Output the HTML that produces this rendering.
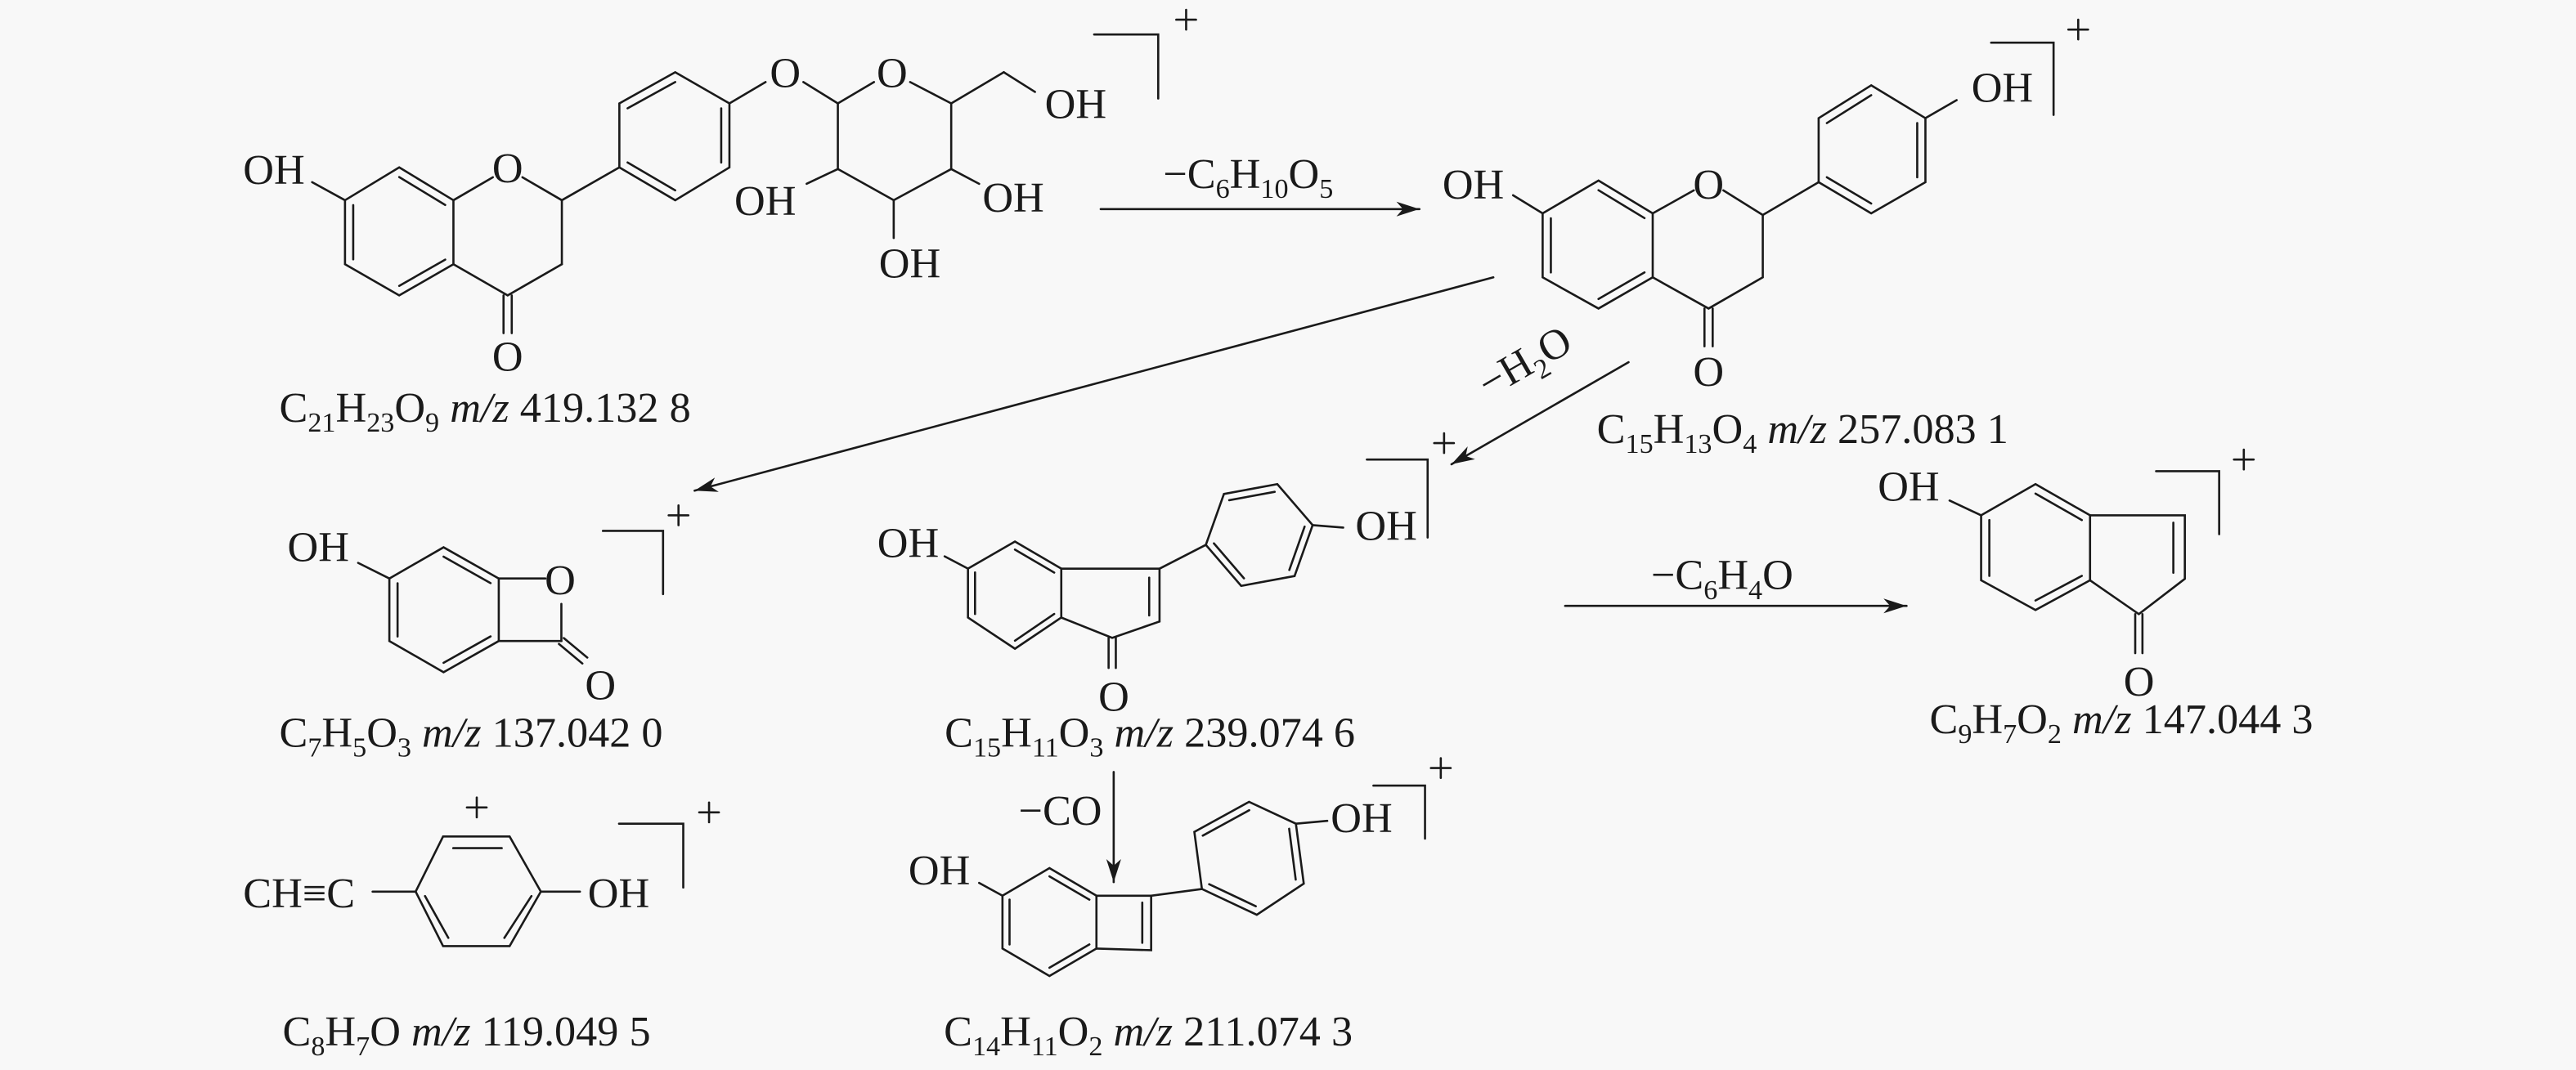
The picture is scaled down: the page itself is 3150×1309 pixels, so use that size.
<!DOCTYPE html>
<html><head><meta charset="utf-8"><style>
html,body{margin:0;padding:0;background:#f8f8f8;}
svg{display:block;}
text{font-family:"Liberation Serif","DejaVu Serif",serif;font-size:26px;fill:#1a1a1a;}
.s{font-size:17px;}
</style></head><body>
<svg width="3150" height="1309" viewBox="0 0 1568 652" preserveAspectRatio="none" xmlns="http://www.w3.org/2000/svg">
<defs>
<marker id="ah" markerUnits="userSpaceOnUse" markerWidth="16" markerHeight="12" refX="14" refY="5" orient="auto">
<path d="M0,0.5 L14,5 L0,9.5 L4,5 Z" fill="#1a1a1a"/>
</marker>
</defs>
<rect width="1568" height="652" fill="#f8f8f8"/>
<g stroke="#1a1a1a" stroke-width="1.3" fill="none" stroke-linecap="round">
<!-- Structure 1 -->
<polygon points="243,102 276,122 276,161 243,180 210,161 210,122"/>
<line x1="243" y1="107.9" x2="271" y2="124.9"/>
<line x1="215" y1="158" x2="215" y2="125"/>
<line x1="271" y1="158.2" x2="243" y2="174.2"/>
<line x1="210" y1="122" x2="190" y2="111"/>
<line x1="276" y1="122" x2="300" y2="108"/>
<line x1="318" y1="108" x2="342" y2="122"/>
<line x1="342" y1="122" x2="342" y2="161"/>
<line x1="342" y1="161" x2="309" y2="180"/>
<line x1="309" y1="180" x2="276" y2="161"/>
<line x1="306.5" y1="180" x2="306.5" y2="203"/>
<line x1="311.5" y1="180" x2="311.5" y2="203"/>
<line x1="342" y1="122" x2="377" y2="102"/>
<polygon points="411,44 444,63 444,102 411,122 377,102 377,63"/>
<line x1="382" y1="66" x2="411" y2="50"/>
<line x1="439" y1="99" x2="439" y2="66"/>
<line x1="382" y1="99" x2="411" y2="116"/>
<line x1="444" y1="63" x2="466" y2="50"/>
<line x1="489" y1="50" x2="510" y2="63"/>
<line x1="510" y1="63" x2="532" y2="50"/>
<line x1="554" y1="50" x2="579" y2="63"/>
<polyline points="579,63 579,103 544,122 510,103 510,63"/>
<line x1="579" y1="63" x2="611" y2="44"/>
<line x1="611" y1="44" x2="630" y2="56"/>
<line x1="579" y1="103" x2="596" y2="112"/>
<line x1="510" y1="103" x2="491" y2="112"/>
<line x1="544" y1="122" x2="544" y2="145"/>
<polyline points="666,21 705,21 705,60"/>
<line x1="716" y1="12" x2="728" y2="12"/><line x1="722" y1="6" x2="722" y2="18"/>

<!-- Structure 2 -->
<polygon points="973,110 1006,130 1006,169 973,188 939,169 939,130"/>
<line x1="973" y1="115.9" x2="1001" y2="132.9"/>
<line x1="944" y1="166" x2="944" y2="133"/>
<line x1="1001" y1="166" x2="973" y2="182.2"/>
<line x1="939" y1="130" x2="921" y2="119"/>
<line x1="1006" y1="130" x2="1031" y2="116"/>
<line x1="1049" y1="116" x2="1073" y2="131"/>
<polyline points="1073,131 1073,169 1040,188 1006,169"/>
<line x1="1037.5" y1="188" x2="1037.5" y2="211"/>
<line x1="1042.5" y1="188" x2="1042.5" y2="211"/>
<line x1="1073" y1="131" x2="1107" y2="111"/>
<polygon points="1139,52 1172,72 1172,111 1139,130 1107,111 1107,72"/>
<line x1="1112" y1="75" x2="1139" y2="58"/>
<line x1="1167" y1="108" x2="1167" y2="75"/>
<line x1="1112" y1="108" x2="1139" y2="124"/>
<line x1="1172" y1="72" x2="1191" y2="61"/>
<polyline points="1212,26 1250,26 1250,70"/>
<line x1="1259" y1="18" x2="1271" y2="18"/><line x1="1265" y1="12" x2="1265" y2="24"/>

<!-- arrows -->
<line x1="670" y1="127.4" x2="864" y2="127.4" marker-end="url(#ah)"/>
<line x1="909" y1="169" x2="422.8" y2="299" marker-end="url(#ah)"/>
<line x1="991.3" y1="220.7" x2="883.5" y2="282.9" marker-end="url(#ah)"/>
<line x1="952.7" y1="369.2" x2="1160.5" y2="369.2" marker-end="url(#ah)"/>
<line x1="677.9" y1="470.4" x2="677.9" y2="537.5" marker-end="url(#ah)"/>

<!-- Structure 3 -->
<polygon points="270,333.5 303.6,352.5 303.6,390.6 270,409.6 237,390.6 237,352.5"/>
<line x1="270" y1="339.2" x2="298.6" y2="355.3"/>
<line x1="242" y1="387.8" x2="242" y2="355.4"/>
<line x1="298.6" y1="387.8" x2="270" y2="403.9"/>
<line x1="237" y1="352.5" x2="218" y2="343"/>
<line x1="303.6" y1="352.5" x2="332" y2="352.5"/>
<line x1="341.7" y1="368" x2="341.7" y2="390.6"/>
<line x1="341.7" y1="390.6" x2="303.6" y2="390.6"/>
<line x1="340.2" y1="392.4" x2="354.5" y2="404.3"/>
<line x1="343.2" y1="388.8" x2="357.5" y2="400.7"/>
<polyline points="367,323.5 403.6,323.5 403.6,362"/>
<line x1="407" y1="314" x2="419" y2="314"/><line x1="413" y1="308" x2="413" y2="320"/>

<!-- Structure 4 -->
<polygon points="617.8,330 646,346.5 646,376.3 617.8,395.3 589.2,376.3 589.2,346.5"/>
<line x1="617.8" y1="334.9" x2="641.7" y2="348.9"/>
<line x1="593.5" y1="374.1" x2="593.5" y2="348.8"/>
<line x1="641.7" y1="374.1" x2="617.8" y2="390.4"/>
<line x1="589.2" y1="346.5" x2="575" y2="339"/>
<polyline points="646,346.5 705.8,346.5 705.8,378.7 677,388.7 646,376.3"/>
<line x1="699.5" y1="352" x2="699.5" y2="375"/>
<line x1="674.8" y1="388.7" x2="674.8" y2="407"/>
<line x1="679.2" y1="388.7" x2="679.2" y2="407"/>
<line x1="705.8" y1="346.5" x2="734" y2="332"/>
<polygon points="734,332 745,301 777.5,295 799,320 788,351 755.5,357"/>
<line x1="748.2" y1="304.8" x2="775.9" y2="299.7"/>
<line x1="794.1" y1="320.9" x2="784.8" y2="347.3"/>
<line x1="757.2" y1="352.4" x2="738.9" y2="331.1"/>
<line x1="799" y1="320" x2="817.6" y2="321.5"/>
<polyline points="832,280 869,280 869,327.5"/>
<line x1="873" y1="270" x2="885" y2="270"/><line x1="879" y1="264" x2="879" y2="276"/>

<!-- Structure 5 -->
<polygon points="269.7,509.7 310.2,509.7 329.2,543.3 310.2,576.5 269.7,576.5 253,543.3"/>
<line x1="275.9" y1="516.8" x2="305.4" y2="516.8"/>
<line x1="258.7" y1="546" x2="272.9" y2="571.5"/>
<line x1="323.5" y1="546" x2="307" y2="571.5"/>
<line x1="226.8" y1="543.3" x2="253" y2="543.3"/>
<line x1="329.2" y1="543.3" x2="353" y2="543.3"/>
<line x1="284.2" y1="492" x2="296.2" y2="492"/><line x1="290.2" y1="486" x2="290.2" y2="498"/>
<polyline points="376.8,501.9 415.9,501.9 415.9,540.8"/>
<line x1="425.6" y1="495" x2="437.6" y2="495"/><line x1="431.6" y1="489" x2="431.6" y2="501"/>

<!-- Structure 6 -->
<polygon points="638.8,529 667.4,545.8 667.4,578 638.8,594.7 610.2,578 610.2,545.8"/>
<line x1="638.8" y1="534" x2="663.1" y2="548.2"/>
<line x1="614.5" y1="575.5" x2="614.5" y2="548.2"/>
<line x1="663.1" y1="575.5" x2="638.8" y2="589.7"/>
<line x1="610.2" y1="545.8" x2="596" y2="538"/>
<polyline points="667.4,545.8 700.7,545.8 700.7,579 667.4,578"/>
<line x1="695.3" y1="550" x2="695.3" y2="574.5"/>
<line x1="700.7" y1="545.8" x2="731.6" y2="541.7"/>
<polygon points="731.6,541.7 727,506.9 760.3,488.6 788.8,501.9 793.6,538.4 765,557.4"/>
<line x1="732.1" y1="509.2" x2="760.4" y2="493.7"/>
<line x1="784.7" y1="505" x2="788.7" y2="536"/>
<line x1="764.4" y1="552.2" x2="736" y2="538.8"/>
<line x1="788.8" y1="501.9" x2="807.9" y2="500.2"/>
<polyline points="836,478.7 867.4,478.7 867.4,511"/>
<line x1="871" y1="468" x2="883" y2="468"/><line x1="877" y1="462" x2="877" y2="474"/>

<!-- Structure 7 -->
<polygon points="1239,295 1272.2,314 1272.2,353.6 1239,371.7 1205.9,353.6 1205.9,314"/>
<line x1="1239" y1="300.8" x2="1267.2" y2="316.9"/>
<line x1="1210.9" y1="350.9" x2="1210.9" y2="316.9"/>
<line x1="1267.2" y1="350.9" x2="1239" y2="365.9"/>
<line x1="1205.9" y1="314" x2="1186.7" y2="305"/>
<polyline points="1272.2,314 1329.9,314 1329.9,352.7 1301.9,374.2 1272.2,353.6"/>
<line x1="1322.9" y1="318.5" x2="1322.9" y2="349"/>
<line x1="1299.7" y1="374.2" x2="1299.7" y2="398"/>
<line x1="1304.1" y1="374.2" x2="1304.1" y2="398"/>
<polyline points="1312.4,287.1 1350.8,287.1 1350.8,325.5"/>
<line x1="1359.8" y1="280" x2="1371.8" y2="280"/><line x1="1365.8" y1="274" x2="1365.8" y2="286"/>
</g>

<!-- Text: structure 1 -->
<text x="148" y="112">OH</text>
<text x="309" y="111" text-anchor="middle">O</text>
<text x="309" y="226" text-anchor="middle">O</text>
<text x="478" y="53" text-anchor="middle">O</text>
<text x="543" y="53" text-anchor="middle">O</text>
<text x="636" y="72">OH</text>
<text x="598" y="129">OH</text>
<text x="447" y="131">OH</text>
<text x="535" y="169">OH</text>
<text x="170" y="257">C<tspan class="s" dy="6">21</tspan><tspan dy="-6">H</tspan><tspan class="s" dy="6">23</tspan><tspan dy="-6">O</tspan><tspan class="s" dy="6">9</tspan><tspan dy="-6"> </tspan><tspan font-style="italic">m/z</tspan> 419.132 8</text>

<text x="708" y="114.5">−C<tspan class="s" dy="6">6</tspan><tspan dy="-6">H</tspan><tspan class="s" dy="6">10</tspan><tspan dy="-6">O</tspan><tspan class="s" dy="6">5</tspan></text>

<!-- structure 2 -->
<text x="878" y="121">OH</text>
<text x="1040" y="121" text-anchor="middle">O</text>
<text x="1040" y="235" text-anchor="middle">O</text>
<text x="1200" y="62">OH</text>
<text x="972" y="270">C<tspan class="s" dy="6">15</tspan><tspan dy="-6">H</tspan><tspan class="s" dy="6">13</tspan><tspan dy="-6">O</tspan><tspan class="s" dy="6">4</tspan><tspan dy="-6"> </tspan><tspan font-style="italic">m/z</tspan> 257.083 1</text>

<text transform="translate(906,243) rotate(-30)">−H<tspan class="s" dy="6">2</tspan><tspan dy="-6">O</tspan></text>

<!-- structure 3 -->
<text x="175" y="342">OH</text>
<text x="341" y="362" text-anchor="middle">O</text>
<text x="365.5" y="426" text-anchor="middle">O</text>
<text x="170" y="455">C<tspan class="s" dy="6">7</tspan><tspan dy="-6">H</tspan><tspan class="s" dy="6">5</tspan><tspan dy="-6">O</tspan><tspan class="s" dy="6">3</tspan><tspan dy="-6"> </tspan><tspan font-style="italic">m/z</tspan> 137.042 0</text>

<!-- structure 4 -->
<text x="534" y="339.5">OH</text>
<text x="678" y="433" text-anchor="middle">O</text>
<text x="825" y="329">OH</text>
<text x="575" y="455">C<tspan class="s" dy="6">15</tspan><tspan dy="-6">H</tspan><tspan class="s" dy="6">11</tspan><tspan dy="-6">O</tspan><tspan class="s" dy="6">3</tspan><tspan dy="-6"> </tspan><tspan font-style="italic">m/z</tspan> 239.074 6</text>

<text x="620" y="502.7">−CO</text>

<!-- structure 5 -->
<text x="148" y="553">CH≡C</text>
<text x="357.8" y="553">OH</text>
<text x="172" y="637">C<tspan class="s" dy="6">8</tspan><tspan dy="-6">H</tspan><tspan class="s" dy="6">7</tspan><tspan dy="-6">O </tspan><tspan font-style="italic">m/z</tspan> 119.049 5</text>

<!-- structure 6 -->
<text x="553" y="539">OH</text>
<text x="810" y="507">OH</text>
<text x="574.5" y="637">C<tspan class="s" dy="6">14</tspan><tspan dy="-6">H</tspan><tspan class="s" dy="6">11</tspan><tspan dy="-6">O</tspan><tspan class="s" dy="6">2</tspan><tspan dy="-6"> </tspan><tspan font-style="italic">m/z</tspan> 211.074 3</text>

<!-- structure 7 -->
<text x="1143" y="305">OH</text>
<text x="1302" y="424" text-anchor="middle">O</text>
<text x="1005" y="359">−C<tspan class="s" dy="6">6</tspan><tspan dy="-6">H</tspan><tspan class="s" dy="6">4</tspan><tspan dy="-6">O</tspan></text>
<text x="1174.5" y="446.7">C<tspan class="s" dy="6">9</tspan><tspan dy="-6">H</tspan><tspan class="s" dy="6">7</tspan><tspan dy="-6">O</tspan><tspan class="s" dy="6">2</tspan><tspan dy="-6"> </tspan><tspan font-style="italic">m/z</tspan> 147.044 3</text>
</svg>
</body></html>
